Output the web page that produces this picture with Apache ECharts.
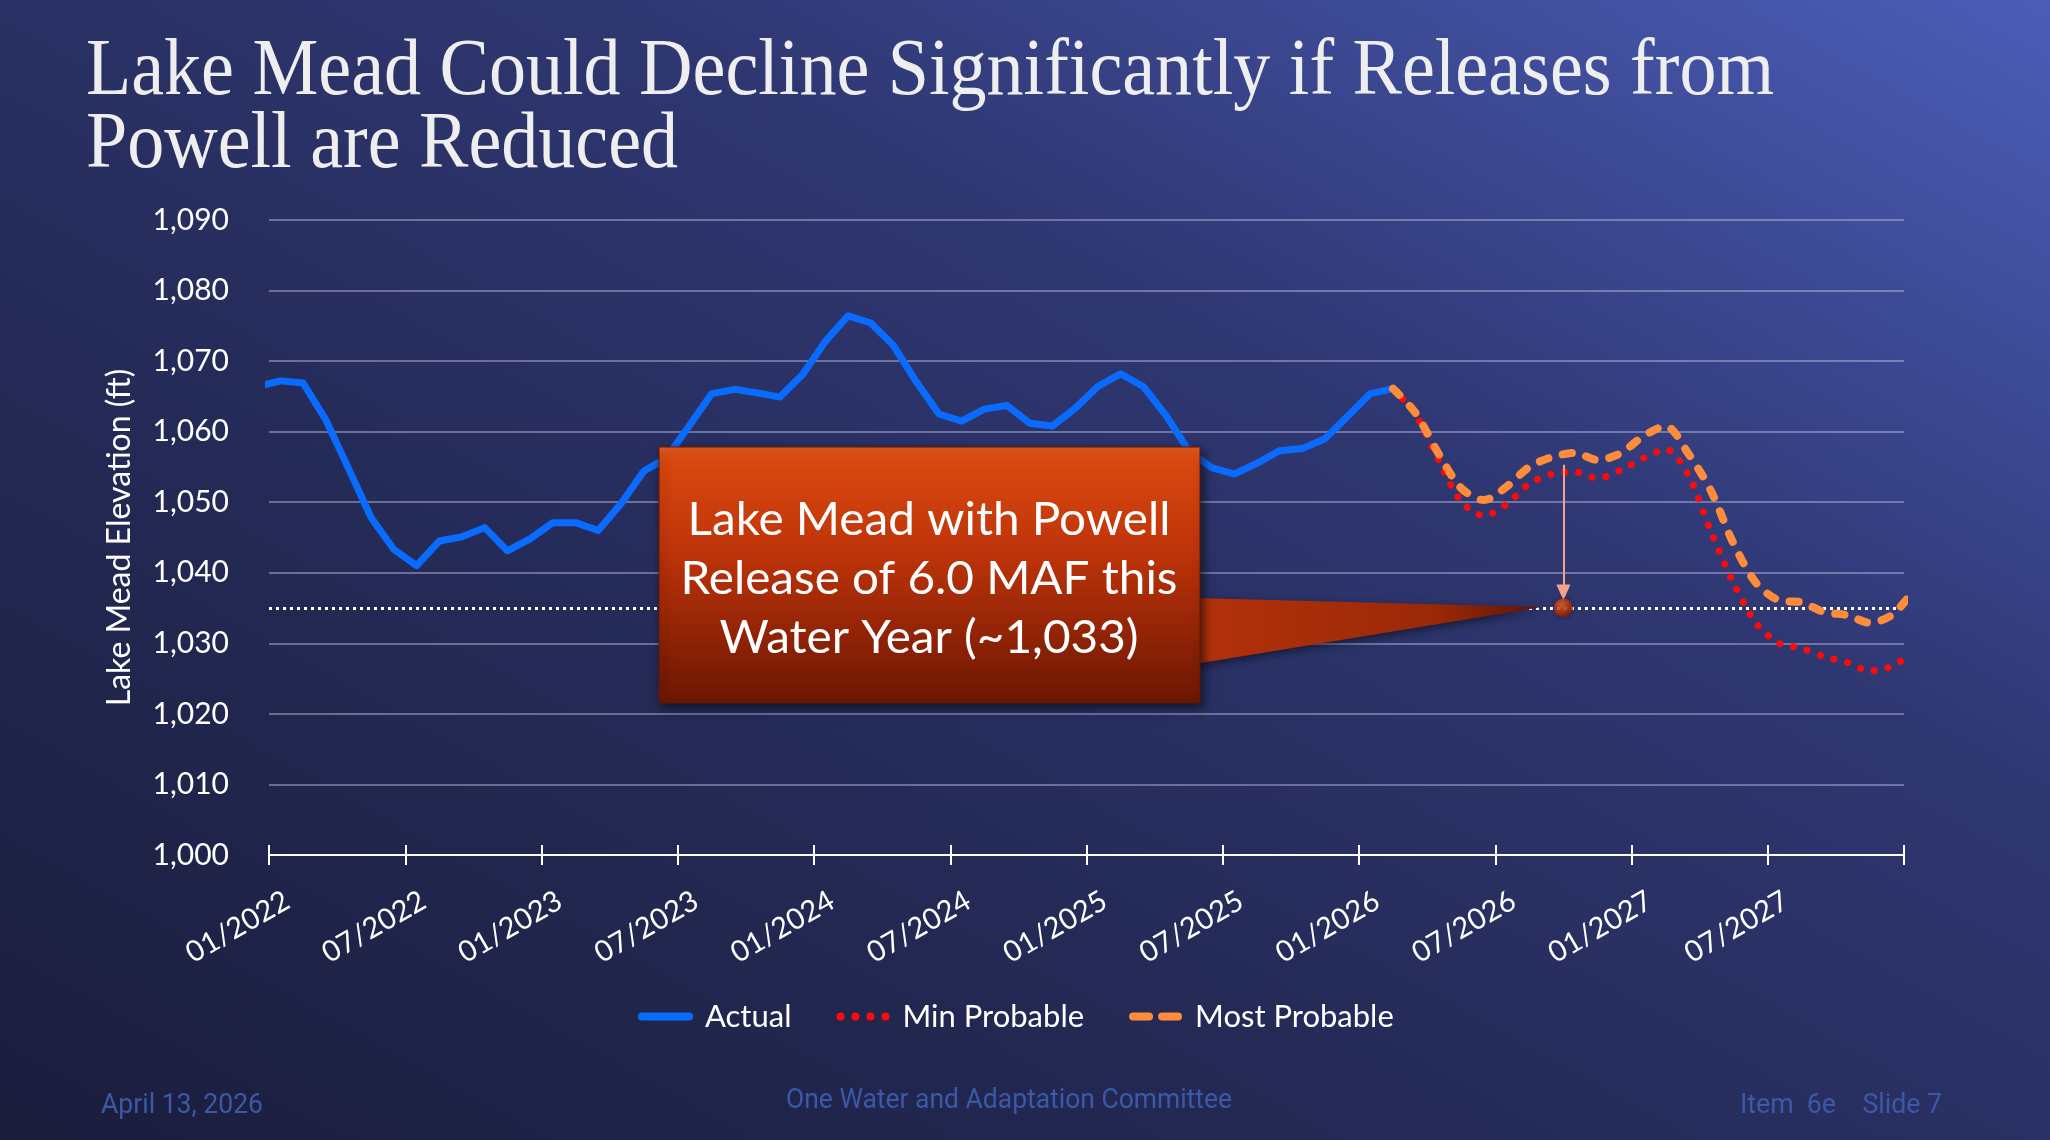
<!DOCTYPE html>
<html>
<head>
<meta charset="utf-8">
<script src="https://cdn.jsdelivr.net/npm/echarts@6/dist/echarts.min.js"></script>
<style>
  html, body { margin: 0; padding: 0; }
  #main {
    width: 2050px; height: 1140px;
    background: linear-gradient(to top right, #1a1d3c 0%, #262c5a 40%, #2f3772 65%, #4b5db8 100%);
  }
</style>
</head>
<body>
<div id="main"></div>
<script>
// monthly elevations (ft), one value per month starting at the given month
const actualStart = '2021-12';
const actualValues = [
  1066.4, 1067.2, 1066.9, 1061.7, 1054.8, 1047.8, 1043.3, 1041.0, 1044.5, 1045.1, 1046.4, 1043.1,
  1044.8, 1047.1, 1047.1, 1046.0, 1049.8, 1054.4, 1056.3, 1060.8, 1065.4, 1066.0, 1065.5, 1064.9,
  1068.1, 1072.8, 1076.4, 1075.4, 1072.2, 1067.1, 1062.5, 1061.5, 1063.2, 1063.7, 1061.2, 1060.8,
  1063.3, 1066.4, 1068.2, 1066.4, 1062.3, 1057.3, 1054.9, 1054.0, 1055.5, 1057.3, 1057.6, 1059.0,
  1062.2, 1065.4, 1066.1
];
const forecastStart = '2026-02';
const minProbable = [
  1066.1, 1062.4, 1056.0, 1050.1, 1048.1, 1049.7, 1052.6, 1054.0, 1054.3, 1053.4, 1054.5, 1056.2,
  1057.5, 1053.9, 1045.8, 1038.5, 1032.8, 1030.0, 1029.3, 1028.1, 1027.3, 1026.1, 1026.8, 1029.0
];
const mostProbable = [
  1066.1, 1062.6, 1056.9, 1052.0, 1050.3, 1052.2, 1055.0, 1056.4, 1057.0, 1056.0, 1056.9, 1059.3,
  1060.8, 1056.9, 1051.6, 1044.1, 1038.5, 1036.1, 1035.8, 1034.4, 1034.0, 1032.9, 1034.1, 1037.8
];
const tickLabels = ['01/2022', '07/2022', '01/2023', '07/2023', '01/2024', '07/2024', '01/2025',
  '07/2025', '01/2026', '07/2026', '01/2027', '07/2027', ''];
const calloutMonth = '2026-10';   // end of water year
const calloutLevel = 1035;
const arrowTop = 1055.3;
const arrowTip = 1037.2;

// x position in months from 01/2022, data sit mid-month
function monthStart(ym) {
  const [y, m] = ym.split('-').map(Number);
  return (y - 2022) * 12 + (m - 1);
}
function toSeries(start, values) {
  const s = monthStart(start);
  return values.map((v, i) => [s + i + 0.5, v]);
}

function fitScale(text, font, target) {
  const ctx = document.createElement('canvas').getContext('2d');
  ctx.font = font;
  return target / ctx.measureText(text).width;
}

const chart = echarts.init(document.getElementById('main'));

const titleFont = '80px "Liberation Serif"';
const title1 = 'Lake Mead Could Decline Significantly if Releases from';
const title2 = 'Powell are Reduced';
const titleScale = fitScale(title1, titleFont, 1688);

const boxFont = '46px Lato';
const boxLines = ['Lake Mead with Powell', 'Release of 6.0 MAF this', 'Water Year (~1,033)'];
const boxScale = fitScale(boxLines[1], boxFont, 497);

const footFont = '27px Roboto';
const footColor = '#3b59a6';
const foot1 = 'April 13, 2026';
const foot2 = 'One Water and Adaptation Committee';
const foot3 = 'Item  6e    Slide 7';

const calloutX = monthStart(calloutMonth);

// legend swatches: solid bar, four dots, two dashes
const iconSolid = 'path://M4,0 H51 A4,4 0 0 1 51,8 H4 A4,4 0 0 1 4,0 Z';
const iconDots = 'path://M0,4 A4,4 0 1 1 8,4 A4,4 0 1 1 0,4 Z M15,4 A4,4 0 1 1 23,4 A4,4 0 1 1 15,4 Z ' +
  'M30,4 A4,4 0 1 1 38,4 A4,4 0 1 1 30,4 Z M45,4 A4,4 0 1 1 53,4 A4,4 0 1 1 45,4 Z';
const iconDash = 'path://M4,0 H20 A4,4 0 0 1 20,8 H4 A4,4 0 0 1 4,0 Z M33,0 H49 A4,4 0 0 1 49,8 H33 A4,4 0 0 1 33,0 Z';

const option = {
  backgroundColor: 'transparent',
  animation: false,
  grid: { left: 269, right: 146, top: 220, bottom: 285 },
  legend: {
    data: [
      { name: 'Actual', icon: iconSolid },
      { name: 'Min Probable', icon: iconDots },
      { name: 'Most Probable', icon: iconDash }
    ],
    left: 633,
    top: 996,
    itemWidth: 55,
    itemHeight: 8,
    itemGap: 45,
    textStyle: { color: '#ffffff', fontSize: 31, fontFamily: 'Lato', padding: [0, 0, 0, 7] }
  },
  xAxis: [{
    type: 'value',
    min: 0, max: 72, interval: 6,
    axisLine: { show: true, lineStyle: { color: '#ffffff', width: 2 } },
    axisTick: { show: true, length: 10, lineStyle: { color: '#ffffff', width: 2 } },
    splitLine: { show: false },
    axisLabel: {
      rotate: 30, margin: 54, padding: [0, -21, 0, 0],
      color: '#ffffff', fontSize: 29, fontFamily: 'Lato',
      formatter: v => tickLabels[Math.round(v / 6)] || ''
    }
  }, {
    type: 'value',
    min: 0, max: 72, interval: 6,
    position: 'bottom',
    axisLine: { show: false },
    axisTick: { show: true, inside: true, length: 10, lineStyle: { color: '#ffffff', width: 2 } },
    splitLine: { show: false },
    axisLabel: { show: false }
  }],
  yAxis: {
    type: 'value',
    min: 1000, max: 1090, interval: 10,
    name: 'Lake Mead Elevation (ft)',
    nameLocation: 'middle',
    nameGap: 133,
    nameTextStyle: { color: '#ffffff', fontSize: 32, fontFamily: 'Lato' },
    axisLine: { show: false },
    axisTick: { show: false },
    splitLine: { lineStyle: { color: 'rgba(190,196,230,0.45)', width: 2 } },
    axisLabel: {
      margin: 40, color: '#ffffff', fontSize: 30, fontFamily: 'Lato',
      formatter: v => v.toLocaleString('en-US')
    }
  },
  series: [
    {
      name: 'ref',
      type: 'line',
      data: [],
      silent: true,
      markLine: {
        silent: true,
        symbol: ['none', 'none'],
        label: { show: false },
        lineStyle: { color: '#ffffff', width: 3, type: [3, 4] },
        data: [{ yAxis: calloutLevel }]
      }
    },
    {
      name: 'Actual',
      type: 'line',
      data: toSeries(actualStart, actualValues),
      showSymbol: false,
      symbol: 'none',
      color: '#0a6cff',
      lineStyle: { color: '#0a6cff', width: 7, join: 'round' },
      z: 3
    },
    {
      name: 'Min Probable',
      type: 'line',
      data: toSeries(forecastStart, minProbable),
      smooth: 0.3,
      symbol: 'none',
      color: '#ff0a0a',
      lineStyle: { color: '#ff0a0a', width: 7, type: [0.1, 14], cap: 'round' },
      z: 4
    },
    {
      name: 'Most Probable',
      type: 'line',
      data: toSeries(forecastStart, mostProbable),
      smooth: 0.3,
      symbol: 'none',
      color: '#ff8c3a',
      lineStyle: { color: '#ff8c3a', width: 8, type: [9, 15], cap: 'round' },
      z: 5,
      markLine: {
        silent: true,
        symbol: ['none', 'triangle'],
        symbolSize: [14, 16],
        label: { show: false },
        lineStyle: { color: '#f5a28c', width: 2, type: 'solid' },
        data: [[{ coord: [calloutX, arrowTop] }, { coord: [calloutX, arrowTip] }]]
      }
    },
    {
      name: 'point',
      type: 'scatter',
      data: [[calloutX, calloutLevel]],
      symbolSize: 19,
      silent: true,
      z: 10,
      itemStyle: {
        color: new echarts.graphic.RadialGradient(0.4, 0.35, 0.7, [
          { offset: 0, color: '#f06a2a' },
          { offset: 0.6, color: '#b8350c' },
          { offset: 1, color: '#6e1804' }
        ]),
        shadowBlur: 4, shadowColor: 'rgba(0,0,0,0.5)'
      }
    }
  ],
  graphic: [
    { type: 'text', x: 86, y: 73, scaleX: titleScale, z: 50,
      style: { text: title1, font: titleFont, fill: '#eeeeee', textVerticalAlign: 'middle' } },
    { type: 'text', x: 86, y: 146, scaleX: titleScale, z: 50,
      style: { text: title2, font: titleFont, fill: '#eeeeee', textVerticalAlign: 'middle' } },
    // callout pointer
    { type: 'polygon', z: 50,
      shape: { points: [[1195, 598], [1542, 607], [1195, 664]] },
      style: {
        fill: new echarts.graphic.LinearGradient(0, 0, 1, 0, [
          { offset: 0, color: '#b3320b' },
          { offset: 0.7, color: '#9a2807' },
          { offset: 1, color: '#5c1503' }
        ]),
        shadowBlur: 8, shadowColor: 'rgba(0,0,0,0.5)', shadowOffsetY: 3
      } },
    // callout box
    { type: 'rect', z: 51,
      shape: { x: 659, y: 447, width: 541, height: 256 },
      style: {
        fill: new echarts.graphic.LinearGradient(0, 0, 0, 1, [
          { offset: 0, color: '#e85a20' },
          { offset: 0.06, color: '#d8480f' },
          { offset: 0.4, color: '#bf340a' },
          { offset: 1, color: '#6c1603' }
        ]),
        stroke: '#5a1a08', lineWidth: 1,
        shadowBlur: 10, shadowColor: 'rgba(0,0,0,0.6)', shadowOffsetX: 3, shadowOffsetY: 4
      } },
    ...boxLines.map((t, i) => ({
      type: 'text', x: 929, y: 520 + i * 59, scaleX: boxScale, z: 52,
      style: {
        text: t, font: boxFont, fill: '#ffffff', textAlign: 'center', textVerticalAlign: 'middle',
        shadowBlur: 4, shadowColor: 'rgba(0,0,0,0.7)', shadowOffsetX: 2, shadowOffsetY: 2
      }
    })),
    // footer
    { type: 'text', x: 101, y: 1106, scaleX: fitScale(foot1, footFont, 162), z: 50,
      style: { text: foot1, font: footFont, fill: footColor, textVerticalAlign: 'middle' } },
    { type: 'text', x: 1009, y: 1101, scaleX: fitScale(foot2, footFont, 446), z: 50,
      style: { text: foot2, font: footFont, fill: footColor, textAlign: 'center', textVerticalAlign: 'middle' } },
    { type: 'text', x: 1942, y: 1106, scaleX: fitScale(foot3, footFont, 202), z: 50,
      style: { text: foot3, font: footFont, fill: footColor, textAlign: 'right', textVerticalAlign: 'middle' } }
  ]
};

chart.setOption(option);
</script>
</body>
</html>
